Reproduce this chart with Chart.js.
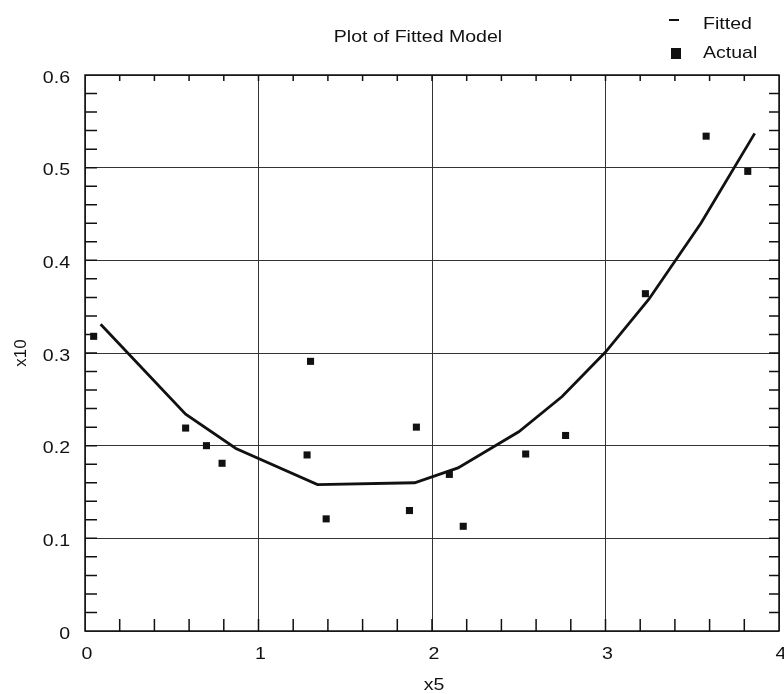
<!DOCTYPE html>
<html>
<head>
<meta charset="utf-8">
<title>Plot of Fitted Model</title>
<script src="https://cdn.jsdelivr.net/npm/chart.js@4.4.1/dist/chart.umd.min.js"></script>
<style>
    html, body { margin: 0; padding: 0; background: #fff; }
    #wrap { width: 784px; height: 694px; position: relative; }
</style>
</head>
<body>
<div id="wrap"><canvas id="fitChart"></canvas></div>
<script>
// Observed values
const actualX = [0.05, 0.58, 0.70, 0.79, 1.28, 1.30, 1.39, 1.87, 1.91, 2.10, 2.18, 2.54, 2.77, 3.23, 3.58, 3.82];
const actualY = [0.318, 0.219, 0.200, 0.181, 0.190, 0.291, 0.121, 0.130, 0.220, 0.169, 0.113, 0.191, 0.211, 0.364, 0.534, 0.496];

// Fitted model, joined with straight segments
const fittedX = [0.09, 0.58, 0.87, 1.34, 1.90, 2.15, 2.50, 2.75, 3.00, 3.25, 3.55, 3.86];
const fittedY = [0.331, 0.234, 0.197, 0.158, 0.160, 0.176, 0.215, 0.253, 0.301, 0.358, 0.440, 0.537];

const xTicks = [0, 1, 2, 3, 4];
const yTicks = [0, 0.1, 0.2, 0.3, 0.4, 0.5, 0.6];

const FONT = '"Liberation Sans", Arial, sans-serif';
const STRETCH = 1.15;   // the plot's lettering is a little wide

function toPoints(xs, ys) {
    return xs.map((x, i) => ({ x: x, y: ys[i] }));
}

// wide text helper: align is 'left' | 'center' | 'right'
function wideText(ctx, text, x, y, align, size) {
    ctx.save();
    ctx.font = size + 'px ' + FONT;
    ctx.textBaseline = 'middle';
    ctx.textAlign = 'left';
    const w = ctx.measureText(text).width * STRETCH;
    let left = x;
    if (align === 'center') left = x - w / 2;
    if (align === 'right') left = x - w;
    ctx.translate(left, y);
    ctx.scale(STRETCH, 1);
    ctx.fillText(text, 0, 0);
    ctx.restore();
}

// Title, legend, tick labels, axis titles and the inward minor ticks
const decorations = {
    id: 'decorations',
    afterDraw(chart) {
        const ctx = chart.ctx;
        const xs = chart.scales.x;
        const ys = chart.scales.y;
        const area = chart.chartArea;

        ctx.save();
        ctx.strokeStyle = '#111';
        ctx.lineWidth = 1.5;
        ctx.beginPath();
        for (let i = 1; i < 20; i++) {
            const px = xs.getPixelForValue(i * 0.2);
            ctx.moveTo(px, area.bottom);
            ctx.lineTo(px, area.bottom - 12);
            ctx.moveTo(px, area.top);
            ctx.lineTo(px, area.top + 6);
        }
        for (let i = 1; i < 30; i++) {
            const py = ys.getPixelForValue(i * 0.02);
            ctx.moveTo(area.left, py);
            ctx.lineTo(area.left + 12, py);
            ctx.moveTo(area.right, py);
            ctx.lineTo(area.right - 10, py);
        }
        ctx.stroke();

        // plot frame
        ctx.strokeRect(area.left, area.top, area.right - area.left, area.bottom - area.top);

        ctx.fillStyle = '#111';

        // tick labels
        xTicks.forEach(v => {
            wideText(ctx, String(v), xs.getPixelForValue(v) + 2, area.bottom + 23, 'center', 17);
        });
        yTicks.forEach(v => {
            const label = v === 0 ? '0' : v.toFixed(1);
            wideText(ctx, label, 70, ys.getPixelForValue(v) + 3, 'right', 17);
        });

        wideText(ctx, 'Plot of Fitted Model', 418, 37, 'center', 17);

        // legend
        const sets = chart.data.datasets;
        ctx.lineWidth = 2;
        ctx.beginPath();
        ctx.moveTo(669, 20);
        ctx.lineTo(679, 20);
        ctx.stroke();
        wideText(ctx, sets[0].label, 703, 24, 'left', 17);
        ctx.fillRect(671, 48, 10, 11);
        wideText(ctx, sets[1].label, 703, 53, 'left', 17);

        // axis titles
        wideText(ctx, 'x5', (area.left + area.right) / 2 + 2, 685, 'center', 17);
        ctx.translate(21, (area.top + area.bottom) / 2);
        ctx.rotate(-Math.PI / 2);
        ctx.font = '17px ' + FONT;
        ctx.textAlign = 'center';
        ctx.textBaseline = 'middle';
        ctx.fillText('x10', 0, 0);
        ctx.restore();
    }
};

new Chart(document.getElementById('fitChart'), {
    type: 'scatter',
    data: {
        datasets: [{
            label: 'Fitted',
            data: toPoints(fittedX, fittedY),
            showLine: true,
            borderColor: '#111',
            borderWidth: 2.8,
            pointRadius: 0,
            tension: 0,
            order: 1
        }, {
            label: 'Actual',
            data: toPoints(actualX, actualY),
            pointStyle: 'rect',
            pointRadius: 5,
            backgroundColor: '#111',
            borderColor: '#111',
            borderWidth: 0,
            order: 0
        }]
    },
    options: {
        responsive: true,
        maintainAspectRatio: false,
        animation: false,
        events: [],
        layout: { padding: { top: 75, right: 3, left: 0, bottom: 0 } },
        plugins: {
            legend: { display: false },
            title: { display: false },
            tooltip: { enabled: false }
        },
        scales: {
            x: {
                type: 'linear',
                min: 0,
                max: 4,
                afterBuildTicks: (scale) => { scale.ticks = xTicks.map(v => ({ value: v })); },
                afterFit: (scale) => { scale.height = 63; },
                ticks: { display: false },
                grid: { color: '#333', lineWidth: 1, drawTicks: false },
                border: { display: false }
            },
            y: {
                type: 'linear',
                min: 0,
                max: 0.6,
                afterBuildTicks: (scale) => { scale.ticks = yTicks.map(v => ({ value: v })); },
                afterFit: (scale) => { scale.width = 85; },
                ticks: { display: false },
                grid: { color: '#333', lineWidth: 1, drawTicks: false },
                border: { display: false }
            }
        }
    },
    plugins: [decorations]
});
</script>
</body>
</html>
